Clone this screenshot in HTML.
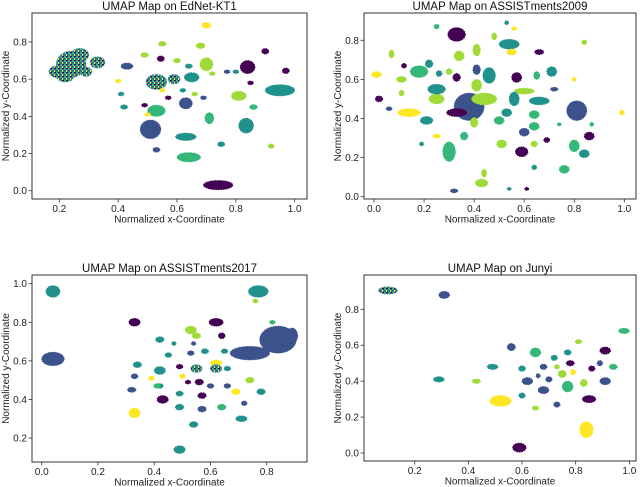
<!DOCTYPE html>
<html><head><meta charset="utf-8"><style>
body{margin:0;background:#fff;}
svg{display:block;font-family:"Liberation Sans","DejaVu Sans",sans-serif;}
</style></head><body>
<svg id="c" width="640" height="487" xmlns="http://www.w3.org/2000/svg">
<defs>
<pattern id="mix" width="4" height="4" patternUnits="userSpaceOnUse">
<rect width="4" height="4" fill="#2a788e"/><rect x="0" y="0" width="2" height="2" fill="#35b779"/><rect x="2" y="2" width="1" height="2" fill="#fde725"/><rect x="2" y="0" width="2" height="1" fill="#440154"/><rect x="0" y="2" width="1" height="1" fill="#3b528b"/>
</pattern>
</defs>
</svg>
<script>
const COLORS=["#440154","#3b528b","#21918c","#35b779","#a0da39","#fde725","url(#mix)"];
// Plot 1: EdNet-KT1
const p1X=[0.24,0.33,0.29,0.19,0.70,0.68,0.55,0.70,0.84,0.90,0.97,0.49,0.43,0.545,0.60,0.64,0.53,0.59,0.65,0.95,0.81,0.63,0.53,0.71,0.51,0.835,0.63,0.64,0.74,0.53,0.75,0.92,0.86,0.40,0.42,0.41,0.49,0.50,0.55,0.57,0.72,0.77,0.80,0.85,0.62,0.66,0.69,0.22,0.27];
const p1Y=[0.68,0.69,0.64,0.64,0.89,0.78,0.79,0.68,0.665,0.75,0.645,0.73,0.67,0.71,0.70,0.67,0.585,0.60,0.61,0.54,0.51,0.47,0.43,0.39,0.33,0.35,0.29,0.18,0.03,0.22,0.25,0.24,0.45,0.59,0.45,0.52,0.46,0.41,0.54,0.50,0.63,0.64,0.64,0.58,0.54,0.52,0.50,0.62,0.73];
const p1RX=[0.05,0.025,0.02,0.025,0.015,0.015,0.013,0.022,0.025,0.012,0.012,0.013,0.02,0.012,0.012,0.012,0.035,0.02,0.025,0.05,0.025,0.022,0.03,0.015,0.035,0.025,0.035,0.04,0.05,0.012,0.012,0.01,0.013,0.01,0.012,0.01,0.01,0.01,0.01,0.01,0.01,0.01,0.01,0.01,0.01,0.01,0.01,0.03,0.03];
const p1RY=[0.07,0.03,0.025,0.03,0.015,0.015,0.013,0.035,0.035,0.015,0.015,0.013,0.017,0.015,0.012,0.012,0.04,0.025,0.025,0.03,0.025,0.03,0.03,0.03,0.05,0.04,0.02,0.025,0.025,0.013,0.013,0.012,0.013,0.01,0.012,0.01,0.01,0.01,0.01,0.01,0.01,0.01,0.01,0.01,0.01,0.01,0.01,0.035,0.035];
const p1C=[6,6,6,6,5,4,4,4,0,0,0,4,1,0,4,2,6,6,2,2,4,1,3,3,1,2,2,3,0,1,2,4,3,5,2,2,0,5,5,0,4,1,2,0,2,4,1,6,6];
// Plot 2: ASSISTments2009
const p2X=[0.38,0.33,0.54,0.55,0.25,0.53,0.56,0.48,0.41,0.34,0.66,0.84,0.07,0.12,0.22,0.18,0.01,0.11,0.11,0.02,0.06,0.14,0.25,0.25,0.26,0.30,0.33,0.41,0.46,0.57,0.65,0.71,0.60,0.56,0.66,0.72,0.81,0.99,0.86,0.80,0.84,0.76,0.64,0.59,0.60,0.64,0.43,0.44,0.32,0.30,0.40,0.36,0.50,0.51,0.64,0.69,0.25,0.21,0.19,0.54,0.61,0.41,0.53,0.64,0.74,0.87,0.80,0.44,0.33];
const p2Y=[0.46,0.83,0.78,0.74,0.87,0.89,0.86,0.82,0.75,0.72,0.74,0.79,0.73,0.67,0.68,0.64,0.625,0.60,0.53,0.50,0.45,0.43,0.50,0.55,0.63,0.64,0.61,0.65,0.62,0.61,0.62,0.64,0.54,0.50,0.49,0.55,0.44,0.43,0.31,0.26,0.22,0.14,0.15,0.23,0.33,0.36,0.07,0.12,0.03,0.23,0.38,0.31,0.39,0.27,0.27,0.29,0.31,0.39,0.27,0.04,0.04,0.57,0.43,0.42,0.37,0.37,0.60,0.50,0.43];
const p2RX=[0.06,0.035,0.04,0.02,0.01,0.008,0.01,0.01,0.015,0.02,0.018,0.01,0.01,0.01,0.015,0.035,0.02,0.02,0.01,0.015,0.012,0.045,0.03,0.035,0.012,0.012,0.015,0.015,0.025,0.02,0.012,0.02,0.04,0.02,0.04,0.015,0.04,0.01,0.02,0.02,0.02,0.02,0.01,0.025,0.02,0.02,0.025,0.01,0.015,0.025,0.015,0.015,0.02,0.02,0.013,0.012,0.015,0.025,0.008,0.008,0.008,0.02,0.02,0.02,0.008,0.008,0.008,0.05,0.04];
const p2RY=[0.07,0.035,0.025,0.015,0.012,0.01,0.01,0.018,0.03,0.025,0.013,0.012,0.02,0.012,0.02,0.03,0.015,0.015,0.015,0.015,0.01,0.02,0.025,0.025,0.015,0.015,0.02,0.025,0.04,0.025,0.02,0.025,0.015,0.035,0.02,0.01,0.05,0.013,0.02,0.03,0.02,0.02,0.012,0.025,0.02,0.02,0.02,0.02,0.01,0.05,0.025,0.02,0.02,0.02,0.015,0.013,0.01,0.02,0.01,0.008,0.008,0.03,0.02,0.02,0.008,0.01,0.01,0.03,0.02];
const p2C=[1,0,2,5,3,2,5,4,4,4,0,4,4,0,2,3,5,4,4,0,1,5,4,2,2,4,0,1,2,0,3,2,4,2,2,1,1,5,0,3,2,3,2,0,1,3,4,4,1,3,4,3,3,4,4,0,5,2,2,2,0,4,2,3,3,3,5,4,0];
// Plot 3: ASSISTments2017
const p3X=[0.04,0.04,0.77,0.76,0.82,0.84,0.74,0.89,0.33,0.62,0.53,0.55,0.42,0.64,0.34,0.42,0.33,0.32,0.33,0.43,0.49,0.54,0.49,0.71,0.78,0.74,0.69,0.72,0.64,0.57,0.57,0.62,0.62,0.55,0.49,0.50,0.45,0.56,0.60,0.66,0.49,0.42,0.39,0.53,0.58,0.65,0.66,0.54,0.52,0.47,0.41];
const p3Y=[0.96,0.61,0.96,0.91,0.80,0.71,0.64,0.73,0.80,0.80,0.76,0.73,0.71,0.73,0.58,0.55,0.52,0.45,0.33,0.40,0.36,0.27,0.14,0.30,0.44,0.50,0.44,0.38,0.36,0.35,0.42,0.59,0.56,0.56,0.57,0.52,0.63,0.49,0.47,0.47,0.43,0.47,0.51,0.64,0.65,0.65,0.56,0.69,0.49,0.69,0.47];
const p3RX=[0.025,0.04,0.035,0.01,0.01,0.065,0.07,0.02,0.02,0.025,0.02,0.015,0.015,0.012,0.015,0.02,0.012,0.015,0.02,0.02,0.015,0.015,0.02,0.02,0.015,0.015,0.015,0.01,0.015,0.015,0.015,0.02,0.02,0.02,0.012,0.01,0.012,0.015,0.012,0.012,0.013,0.012,0.01,0.012,0.013,0.012,0.012,0.008,0.01,0.008,0.012];
const p3RY=[0.03,0.035,0.03,0.01,0.01,0.07,0.035,0.04,0.02,0.02,0.02,0.015,0.015,0.015,0.015,0.02,0.013,0.013,0.025,0.02,0.015,0.015,0.02,0.015,0.015,0.015,0.015,0.012,0.015,0.015,0.015,0.015,0.02,0.02,0.012,0.012,0.012,0.015,0.012,0.012,0.013,0.012,0.012,0.012,0.013,0.012,0.012,0.01,0.01,0.01,0.012];
const p3C=[2,1,2,4,3,1,1,1,0,0,4,4,2,0,2,2,1,1,5,0,2,2,2,2,2,4,5,1,3,1,0,5,6,6,0,5,2,0,1,1,2,2,5,1,2,2,2,1,0,2,3];
// Plot 4: Junyi
const p4X=[0.10,0.31,0.98,0.29,0.43,0.49,0.56,0.52,0.59,0.84,0.65,0.81,0.77,0.72,0.91,0.60,0.62,0.68,0.65,0.60,0.73,0.77,0.75,0.78,0.85,0.83,0.91,0.94,0.86,0.89,0.68,0.70,0.73,0.79,0.66];
const p4Y=[0.905,0.88,0.68,0.41,0.40,0.48,0.59,0.29,0.03,0.13,0.56,0.62,0.56,0.53,0.57,0.47,0.40,0.35,0.25,0.32,0.27,0.37,0.44,0.50,0.30,0.39,0.40,0.48,0.47,0.50,0.48,0.41,0.48,0.45,0.43];
const p4RX=[0.035,0.02,0.02,0.02,0.015,0.02,0.015,0.04,0.025,0.025,0.02,0.012,0.013,0.012,0.02,0.013,0.02,0.02,0.012,0.012,0.012,0.02,0.015,0.015,0.025,0.013,0.02,0.015,0.012,0.01,0.013,0.012,0.01,0.01,0.008];
const p4RY=[0.02,0.02,0.015,0.015,0.013,0.015,0.02,0.03,0.025,0.045,0.025,0.012,0.015,0.015,0.02,0.015,0.02,0.02,0.012,0.015,0.015,0.03,0.02,0.015,0.02,0.02,0.02,0.015,0.015,0.015,0.015,0.015,0.012,0.015,0.012];
const p4C=[6,1,3,2,4,2,1,5,0,5,3,4,2,2,0,2,1,1,4,2,1,3,4,0,0,4,1,3,0,1,1,1,4,5,1];
// Tick labels
const p1XT=[0.2,0.4,0.6,0.8,1.0], p1YT=[0.0,0.2,0.4,0.6,0.8];
const p2XT=[0.0,0.2,0.4,0.6,0.8,1.0], p2YT=[0.0,0.2,0.4,0.6,0.8];
const p3XT=[0.0,0.2,0.4,0.6,0.8], p3YT=[0.2,0.4,0.6,0.8,1.0];
const p4XT=[0.2,0.4,0.6,0.8,1.0], p4YT=[0.0,0.2,0.4,0.6,0.8];

const svg=document.getElementById('c');
const NS="http://www.w3.org/2000/svg";
function mk(tag,attrs,parent){const e=document.createElementNS(NS,tag);for(const k in attrs)e.setAttribute(k,attrs[k]);(parent||svg).appendChild(e);return e;}

function plot(cfg,X,Y,RX,RY,C,XT,YT,name){
  const g=mk('g',{});
  
  
  const sx=v=>cfg.x0+(v-cfg.xv0)*cfg.xs;
  const sy=v=>cfg.y0-(v-cfg.yv0)*cfg.ys;
  for(let i=0;i<X.length;i++){
    const mixed=COLORS[C[i]]==='url(#mix)';
    const e=mk('ellipse',{cx:sx(X[i]),cy:sy(Y[i]),rx:Math.max(1.5,RX[i]*cfg.xs),ry:Math.max(1.5,RY[i]*cfg.ys),fill:COLORS[C[i]],stroke:mixed?'#2a788e':COLORS[C[i]],'stroke-width':0.8,'stroke-dasharray':'1.5 1'},g);
    
    
  }
  const box=mk('rect',{x:cfg.L,y:cfg.T,width:cfg.R-cfg.L,height:cfg.B-cfg.T,fill:'none',stroke:'#333','stroke-width':1},g);
  
  
  XT.forEach(v=>{const x=sx(v);
    mk('line',{x1:x,x2:x,y1:cfg.B,y2:cfg.B+3.5,stroke:'#333','stroke-width':0.8},g);
    const t=mk('text',{x:x,y:cfg.B+13,'text-anchor':'middle','font-size':10,fill:'#222'},g);t.textContent=v.toFixed(1);
    
    });
  YT.forEach(v=>{const y=sy(v);
    mk('line',{x1:cfg.L-3.5,x2:cfg.L,y1:y,y2:y,stroke:'#333','stroke-width':0.8},g);
    const t=mk('text',{x:cfg.L-5,y:y+3.5,'text-anchor':'end','font-size':10,fill:'#222'},g);t.textContent=v.toFixed(1);
    
    });
  const ti=mk('text',{x:(cfg.L+cfg.R)/2,y:cfg.T-3,'text-anchor':'middle','font-size':11.5,fill:'#111'},g);ti.textContent=cfg.title;
  
  
  const xl=mk('text',{x:(cfg.L+cfg.R)/2,y:cfg.B+23.5,'text-anchor':'middle','font-size':10,fill:'#222'},g);xl.textContent='Normalized x-Coordinate';
  
  
  const yx=cfg.ylx, yy=(cfg.T+cfg.B)/2;
  const yl=mk('text',{x:yx,y:yy,'text-anchor':'middle','font-size':10,fill:'#222',transform:`rotate(-90 ${yx} ${yy})`},g);yl.textContent='Normalized y-Coordinate';
  
  
}
plot({L:32,R:307,T:13,B:199,x0:59.3,xv0:0.2,xs:294.2,y0:190.7,yv0:0,ys:185.9,title:'UMAP Map on EdNet-KT1',ylx:9},p1X,p1Y,p1RX,p1RY,p1C,p1XT,p1YT,'ednet');
plot({L:364,R:636,T:13,B:199,x0:374,xv0:0,xs:250.3,y0:196.7,yv0:0,ys:195.5,title:'UMAP Map on ASSISTments2009',ylx:341},p2X,p2Y,p2RX,p2RY,p2C,p2XT,p2YT,'assist2009');
plot({L:32,R:307,T:275,B:462,x0:41.7,xv0:0,xs:281.3,y0:476.6,yv0:0,ys:192.9,title:'UMAP Map on ASSISTments2017',ylx:9},p3X,p3Y,p3RX,p3RY,p3C,p3XT,p3YT,'assist2017');
plot({L:364,R:636,T:275,B:461,x0:414.7,xv0:0.2,xs:268.3,y0:453,yv0:0,ys:179.6,title:'UMAP Map on Junyi',ylx:341},p4X,p4Y,p4RX,p4RY,p4C,p4XT,p4YT,'junyi');
</script>
</body></html>
